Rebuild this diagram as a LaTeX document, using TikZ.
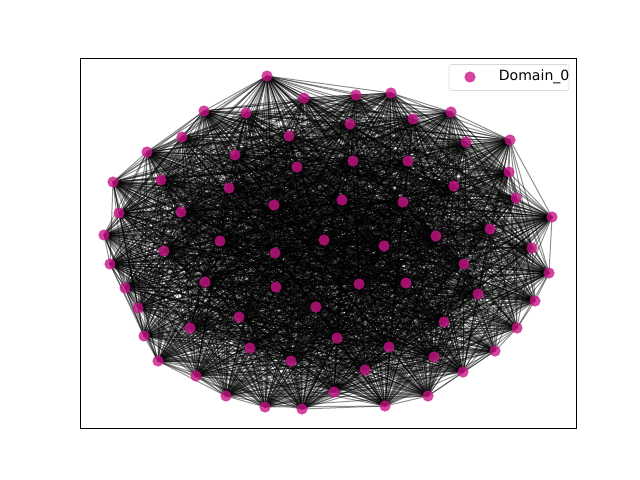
\documentclass[tikz,border=0pt]{standalone}
\usepackage{fontspec}
\setmainfont{DejaVu Sans}
\usetikzlibrary{positioning,backgrounds}
\definecolor{domainpink}{RGB}{199,21,133}
\tikzset{
    vertex/.style={
        circle,
        fill=domainpink,
        fill opacity=0.8,
        inner sep=0pt,
        minimum size=2.8mm,
    },
    link/.style={
        draw=black,
        draw opacity=0.45,
        line width=0.7pt,
    },
}

\begin{document}
\begin{tikzpicture}[x=0.025cm,y=-0.025cm]
	    \useasboundingbox (0,0) rectangle (640,480);
	    \node [draw=black, line width=0.6pt, minimum width=12.4cm, minimum height=9.25cm, inner sep=0pt, anchor=north west] (frame) at (80,58) {};
	    % graph nodes
	    \foreach \x/\y [count=\k] in {267/76,304/98,204/111,246/113,182/137,289/136,147/152,235/155,297/167,113/182,
	    	161/180,229/188,274/205,119/213,181/212,104/235,220/241,324/240,164/251,356/95,
	    	391/93,451/112,350/124,413/119,510/140,466/142,353/161,408/161,509/172,454/186,
	    	516/198,342/200,403/202,552/217,490/229,436/236,384/246,532/248,110/264,275/253,
	    	125/288,205/282,276/287,138/308,316/307,239/317,144/336,190/328,250/348,158/361,
	    	291/361,196/376,226/396,265/407,302/409,464/264,549/273,359/284,406/283,478/294,
	    	535/301,444/322,517/328,337/338,389/347,495/351,434/357,365/370,463/372,334/392,
	    	428/396,385/406}
	    	\node [vertex] (n\k) at (\x,\y) {};
	    % edges
	    \begin{pgfonlayer}{background}
	    \pgfmathsetseed{17}
	    \foreach \i in {2,...,72} {
	    	\pgfmathtruncatemacro{\last}{\i-1}
	    	\foreach \j in {1,...,\last} {
	    		\pgfmathrandominteger{\r}{1}{100}
	    		\ifnum\r<86 \draw [link] (n\i.center) -- (n\j.center); \fi
	    	}
	    }
	    \end{pgfonlayer}
	    % legend
	    \node [draw=black!15, rounded corners=2pt, minimum width=3cm, minimum height=0.65cm, inner sep=0pt] (legend) at (509,77.5) {};
	    \node [vertex] (key) at (470,77) {};
	    \node [right=0.45cm of key, font=\fontsize{10}{12}\selectfont] (keytext) {Domain\_0};
\end{tikzpicture}
\end{document}
